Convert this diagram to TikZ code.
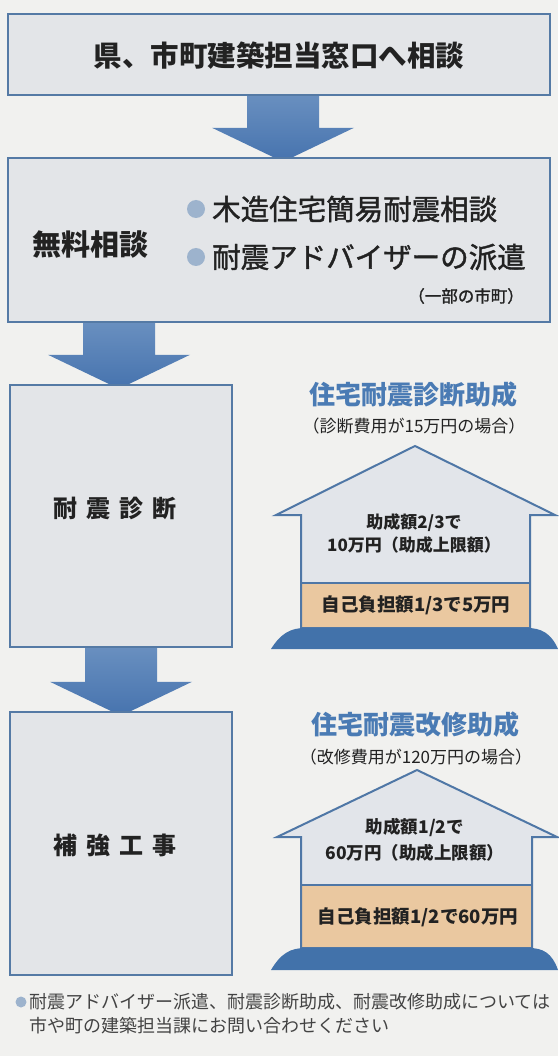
\documentclass[tikz,border=0pt]{standalone}
\usepackage{fontspec}
\setmainfont{Noto Sans CJK JP}
\newfontfamily\itemfont[FakeBold=1.4]{Noto Sans CJK JP}
\usetikzlibrary{calc}

\definecolor{paper}{HTML}{F1F1EF}
\definecolor{boxfill}{HTML}{E3E5E8}
\definecolor{boxline}{HTML}{557AA5}
\definecolor{arrowtop}{HTML}{6A90C0}
\definecolor{arrowbot}{HTML}{4673AE}
\definecolor{housefill}{HTML}{E2E5EA}
\definecolor{houseline}{HTML}{4F77A6}
\definecolor{share}{HTML}{EAC8A0}
\definecolor{ground}{HTML}{4272AA}
\definecolor{titleblue}{HTML}{4A7BB4}
\definecolor{dotblue}{HTML}{9DB3CD}
\definecolor{ink}{HTML}{222222}

% block arrow from the bottom of one box to the top of the next, on a given axis
\newcommand\flowarrow[3]{%
  \shade[top color=arrowtop,bottom color=arrowbot]
    ($(#1.south -| #3)+(-36,-2)$) -- ($(#1.south -| #3)+(36,-2)$)
    -- ($(#2.north -| #3)+(36,-30)$) -- ($(#2.north -| #3)+(71,-30)$)
    -- ($(#2.north -| #3)+(0,4)$)
    -- ($(#2.north -| #3)+(-71,-30)$) -- ($(#2.north -| #3)+(-36,-30)$) -- cycle;}

\begin{document}
\begin{tikzpicture}[x=1pt,y=-1pt,
  box/.style={draw=boxline, line width=2.2pt, fill=boxfill, inner sep=0pt},
  heading/.style={text=ink, font=\bfseries\fontsize{28.5}{32}\selectfont},
  item/.style={text=ink, anchor=west, inner sep=0pt, font=\itemfont\fontsize{28.5}{32}\selectfont},
  stage/.style={text=ink, font=\bfseries\fontsize{24}{28}\selectfont},
  title/.style={text=titleblue, font=\bfseries\fontsize{26}{30}\selectfont},
  subtitle/.style={text=ink, font=\fontsize{17}{20}\selectfont},
  houselabel/.style={text=ink, align=center, font=\bfseries\fontsize{17}{23}\selectfont},
  sharelabel/.style={text=ink, font=\bfseries\fontsize{18.5}{22}\selectfont},
  note/.style={text=ink!85, anchor=west, inner sep=0pt, font=\fontsize{18}{22}\selectfont},
  dot/.style={circle, fill=dotblue, inner sep=0pt, minimum size=#1}
]
\useasboundingbox (0,0) rectangle (558,1056);
\fill[paper] (0,0) rectangle (558,1056);

% axes of the block arrows
\coordinate (ax1) at (283,0);
\coordinate (ax2) at (119,0);
\coordinate (ax3) at (121,0);

% boxes are placed first (without drawing) so the arrows can refer to them
\path (279,54.5) node[minimum width=542pt, minimum height=81pt, inner sep=0pt] (b1) {};
\path (279,240) node[minimum width=542pt, minimum height=164pt, inner sep=0pt] (b2) {};
\path (121,516) node[minimum width=222pt, minimum height=262pt, inner sep=0pt] (b3) {};
\path (121,843.5) node[minimum width=222pt, minimum height=263pt, inner sep=0pt] (b4) {};

\flowarrow{b1}{b2}{ax1}
\flowarrow{b2}{b3}{ax2}
\flowarrow{b3}{b4}{ax3}

% the flow boxes
\node[box, minimum width=542pt, minimum height=81pt] at (b1) {};
\node[box, minimum width=542pt, minimum height=164pt] at (b2) {};
\node[box, minimum width=222pt, minimum height=262pt] at (b3) {};
\node[box, minimum width=222pt, minimum height=263pt] at (b4) {};

\node[heading] (t1) at (279,56) {県、市町建築担当窓口へ相談};

\node[heading, font=\bfseries\fontsize{29}{32}\selectfont] (t2) at (90,244) {無料相談};
\node[dot=18pt] (d1) at (196,209) {};
\node[item] (i1) at (212,209) {木造住宅簡易耐震相談};
\node[dot=18pt] (d2) at (196,257) {};
\node[item] (i2) at (212,257) {耐震アドバイザーの派遣};
\node[text=ink, anchor=east, inner sep=0pt, font=\itemfont\fontsize{16.5}{20}\selectfont] (i3) at (524,296) {（一部の市町）};

\node[stage] (t3) at (115,508) {耐\hspace{9pt}震\hspace{9pt}診\hspace{9pt}断};
\node[stage] (t4) at (115,845) {補\hspace{9pt}強\hspace{9pt}工\hspace{9pt}事};

% ---- subsidy for the seismic diagnosis
\node[title] (h1) at (413,395) {住宅耐震診断助成};
\node[subtitle] (s1) at (414,426) {（診断費用が15万円の場合）};
\fill[housefill] (415,446) -- (555,515) -- (530,515) -- (530,628) -- (301,628) -- (301,515) -- (276,515) -- cycle;
\fill[share] (301,583) rectangle (530,628);
\draw[houseline, line width=2pt] (301,583) -- (530,583);
\draw[houseline, line width=2pt, line join=miter] (415,446) -- (555,515) -- (530,515) -- (530,628) -- (301,628) -- (301,515) -- (276,515) -- cycle;
\fill[ground] (271,649) .. controls (281,633) and (291,628) .. (305,628) -- (527,628)
  .. controls (541,628) and (551,633) .. (558,649) -- cycle;
\node[houselabel] (g1) at (414,534) {助成額2/3で\\10万円（助成上限額）};
\node[sharelabel] (p1) at (416,605) {自己負担額1/3で5万円};

% ---- subsidy for the seismic retrofit
\node[title] (h2) at (415,725) {住宅耐震改修助成};
\node[subtitle] (s2) at (416,757) {（改修費用が120万円の場合）};
\fill[housefill] (417,770) -- (557,837) -- (532,837) -- (532,948) -- (301,948) -- (301,837) -- (277,837) -- cycle;
\fill[share] (301,885) rectangle (532,948);
\draw[houseline, line width=2pt] (301,885) -- (532,885);
\draw[houseline, line width=2pt, line join=miter] (417,770) -- (557,837) -- (532,837) -- (532,948) -- (301,948) -- (301,837) -- (277,837) -- cycle;
\fill[ground] (271,970) .. controls (281,953) and (291,948) .. (305,948) -- (529,948)
  .. controls (543,948) and (552,953) .. (558,970) -- cycle;
\node[houselabel, font=\bfseries\fontsize{17.5}{26}\selectfont] (g2) at (415,840) {助成額1/2で\\60万円（助成上限額）};
\node[sharelabel] (p2) at (418,917) {自己負担額1/2で60万円};

% ---- footnote
\node[dot=11pt] (d3) at (21,1002) {};
\node[note] (n1) at (29,1002) {耐震アドバイザー派遣、耐震診断助成、耐震改修助成については};
\node[note] (n2) at (29,1026) {市や町の建築担当課にお問い合わせください};
\end{tikzpicture}
\end{document}
